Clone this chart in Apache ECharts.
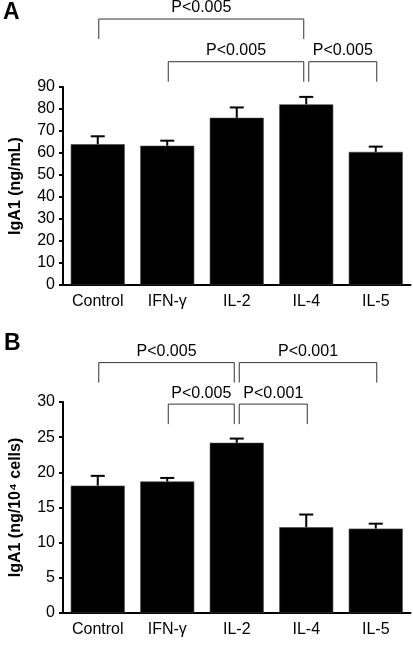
<!DOCTYPE html>
<html>
<head>
<meta charset="utf-8">
<script src="https://cdn.jsdelivr.net/npm/echarts@6/dist/echarts.min.js"></script>
<style>
html,body{margin:0;padding:0;background:#fff;}
#chart{width:413px;height:645px;}
</style>
</head>
<body>
<div id="chart"></div>
<script>
// ---- data ----
var categories = ['Control', 'IFN-\u03b3', 'IL-2', 'IL-4', 'IL-5'];

// Panel A: IgA1 (ng/mL)
var meanA = [64.0, 63.3, 76.0, 82.1, 60.5];
var errA  = [3.6, 2.3, 4.7, 3.4, 2.4];
var ticksA = { min: 0, max: 90, interval: 10 };
// brackets: [fromIndex, toIndex, row]
var bracketsA = [[0, 3, 0], [1, 3, 1], [3, 4, 1]];
var bracketLabelsA = ['P<0.005', 'P<0.005', 'P<0.005'];

// Panel B: IgA1 (ng/10^4 cells)
var meanB = [18.1, 18.7, 24.2, 12.2, 12.0];
var errB  = [1.4, 0.5, 0.6, 1.8, 0.7];
var ticksB = { min: 0, max: 30, interval: 5 };
var bracketsB = [[0, 2, 0], [2, 4, 0], [1, 2, 1], [2, 3, 1]];
var bracketLabelsB = ['P<0.005', 'P<0.001', 'P<0.005', 'P<0.001'];

// ---- chart ----
var FONT = "'Liberation Sans', Arial, Helvetica, sans-serif";
var chart = echarts.init(document.getElementById('chart'), null, { renderer: 'canvas' });

// bracket row heights (in axis values, above plotted range)
var rowLevelsA = [120.9, 101.5];
var rowLevelsB = [35.6, 29.7];

function makeErrorSeries(mean, err, idx) {
  var data = mean.map(function (m, i) { return [i, m, m + err[i]]; });
  return {
    type: 'custom', xAxisIndex: idx, yAxisIndex: idx, z: 5, silent: true,
    clip: false,
    data: data,
    renderItem: function (params, api) {
      var lo = api.coord([api.value(0), api.value(1)]);
      var hi = api.coord([api.value(0), api.value(2)]);
      var cap = 7;
      return {
        type: 'group',
        children: [
          { type: 'line', shape: { x1: lo[0], y1: lo[1], x2: hi[0], y2: hi[1] },
            style: { stroke: '#000', lineWidth: 2 } },
          { type: 'line', shape: { x1: hi[0] - cap, y1: hi[1], x2: hi[0] + cap, y2: hi[1] },
            style: { stroke: '#000', lineWidth: 2 } }
        ]
      };
    }
  };
}

function makeBracketSeries(brackets, labels, levels, idx) {
  var data = brackets.map(function (b) { return [b[0], b[1], levels[b[2]]]; });
  return {
    type: 'custom', xAxisIndex: idx, yAxisIndex: idx, z: 6, silent: true,
    clip: false,
    data: data,
    renderItem: function (params, api) {
      var b = brackets[params.dataIndex];
      var from = b[0], to = b[1];
      var leftShared = brackets.some(function (o) { return o !== b && o[1] === from; });
      var rightShared = brackets.some(function (o) { return o !== b && o[0] === to; });
      var pL = api.coord([from, api.value(2)]);
      var pR = api.coord([to, api.value(2)]);
      var xl = pL[0] + (leftShared ? 2.5 : 1);
      var xr = pR[0] - (rightShared ? 2.5 : -1);
      var y = pL[1];
      var drop = 20;
      return {
        type: 'group',
        children: [
          { type: 'polyline', shape: { points: [[xl, y + drop], [xl, y], [xr, y], [xr, y + drop]] },
            style: { stroke: '#333', lineWidth: 1, fill: null } },
          { type: 'text', style: { text: labels[params.dataIndex], x: (xl + xr) / 2, y: y - 11,
              align: 'center', verticalAlign: 'middle', fill: '#000', font: '16px ' + FONT } }
        ]
      };
    }
  };
}

function yAxisDef(ticks, name, idx) {
  return {
    type: 'value', gridIndex: idx, min: ticks.min, max: ticks.max, interval: ticks.interval,
    name: name, nameLocation: 'middle', nameGap: 39,
    nameTextStyle: { fontFamily: FONT, fontWeight: 'bold', fontSize: 16, color: '#000' },
    axisLine: { show: true, lineStyle: { color: '#000', width: 2 } },
    axisTick: { show: true, inside: false, length: 4, lineStyle: { color: '#000', width: 2 } },
    axisLabel: { color: '#000', fontFamily: FONT, fontSize: 16, margin: 8 },
    splitLine: { show: false }
  };
}

function xAxisDef(idx) {
  return {
    type: 'category', gridIndex: idx, data: categories, boundaryGap: true,
    axisLine: { show: true, lineStyle: { color: '#000', width: 2 } },
    axisTick: { show: false },
    axisLabel: { color: '#000', fontFamily: FONT, fontSize: 16, margin: 9 },
    splitLine: { show: false }
  };
}

var option = {
  backgroundColor: '#fff',
  animation: false,
  grid: [
    { left: 60.5, right: 2.5, top: 87, height: 198 },
    { left: 60.5, right: 2.5, top: 402, height: 211 }
  ],
  xAxis: [xAxisDef(0), xAxisDef(1)],
  yAxis: [
    yAxisDef(ticksA, 'IgA1 (ng/mL)', 0),
    yAxisDef(ticksB, 'IgA1 (ng/10\u2074 cells)', 1)
  ],
  graphic: [
    { type: 'text', left: 3, top: 1, style: { text: 'A', font: 'bold 23px ' + FONT, fill: '#000' } },
    { type: 'text', left: 4, top: 332, style: { text: 'B', font: 'bold 23px ' + FONT, fill: '#000' } }
  ],
  series: [
    { type: 'bar', xAxisIndex: 0, yAxisIndex: 0, data: meanA, barWidth: 54,
      itemStyle: { color: '#000', borderColor: '#444', borderWidth: 0.6 }, silent: true },
    makeErrorSeries(meanA, errA, 0),
    makeBracketSeries(bracketsA, bracketLabelsA, rowLevelsA, 0),
    { type: 'bar', xAxisIndex: 1, yAxisIndex: 1, data: meanB, barWidth: 54,
      itemStyle: { color: '#000', borderColor: '#444', borderWidth: 0.6 }, silent: true },
    makeErrorSeries(meanB, errB, 1),
    makeBracketSeries(bracketsB, bracketLabelsB, rowLevelsB, 1)
  ]
};
chart.setOption(option);
</script>
</body>
</html>
